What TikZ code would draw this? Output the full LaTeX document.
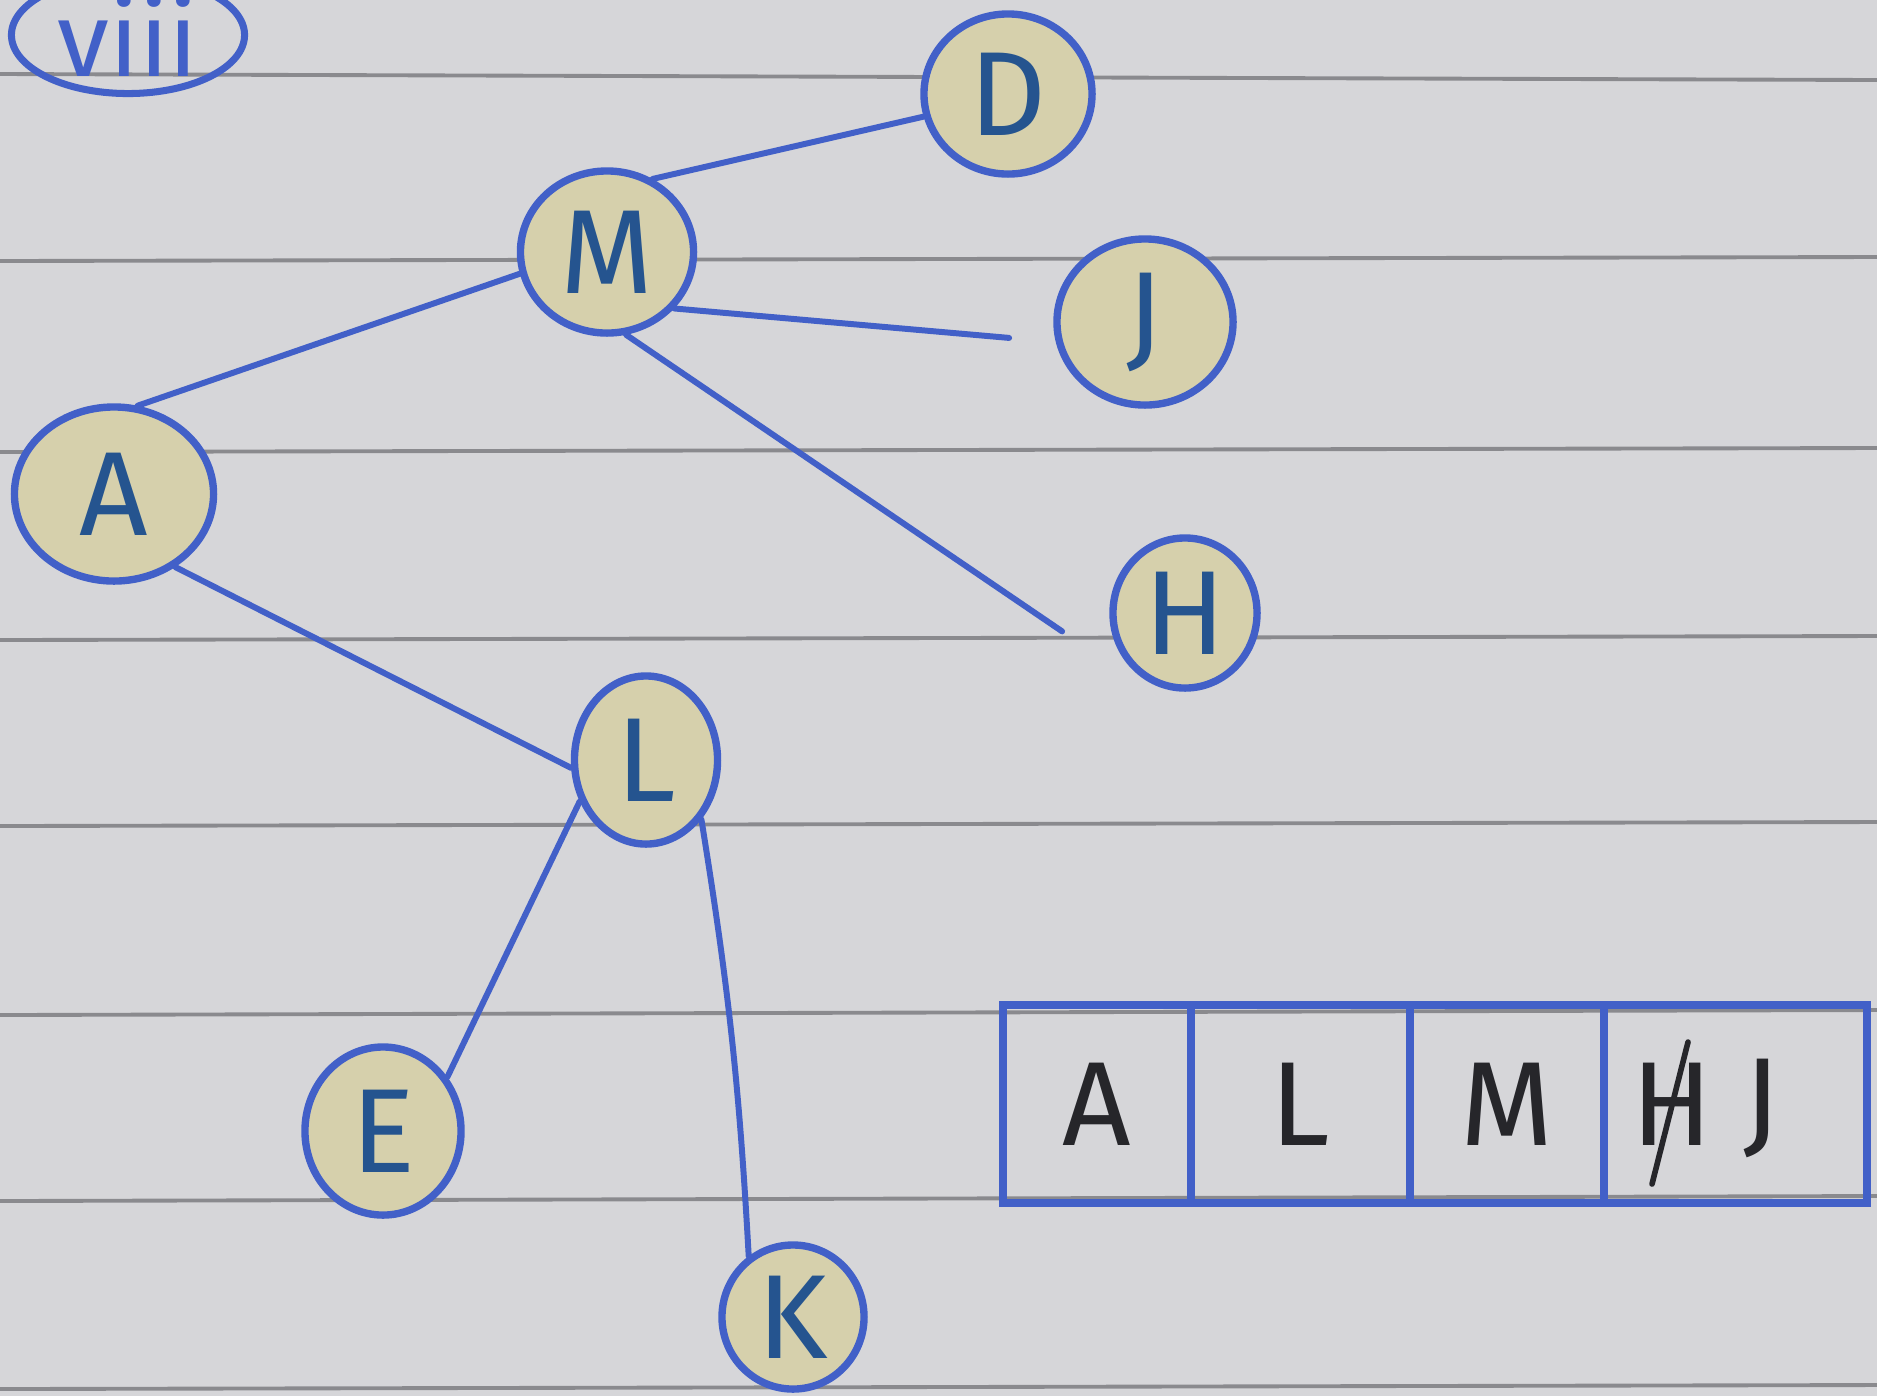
\documentclass[tikz,border=0pt]{standalone}
\usepackage{fontspec}
\setmainfont{Fira Sans}
\usetikzlibrary{shapes.geometric}
\definecolor{paper}{RGB}{214,214,217}
\definecolor{rule}{RGB}{138,138,142}
\definecolor{ink}{RGB}{66,96,200}
\definecolor{marker}{RGB}{214,208,172}
\definecolor{pencil}{RGB}{38,38,42}
\tikzset{
  treenode/.style={ellipse, draw=ink, line width=2.1pt, fill=marker,
    text=ink!70!teal!80!black, inner sep=0pt, font=\fontsize{34}{38}\selectfont},
  edge/.style={draw=ink, line width=1.7pt, line cap=round},
  cell/.style={rectangle, draw=ink, line width=2.2pt, inner sep=0pt,
    minimum height=1.98cm, text=pencil, font=\fontsize{34}{38}\selectfont},
  ruling/.style={draw=rule, line width=1.1pt}
}
\begin{document}
\begin{tikzpicture}[x=0.01cm,y=-0.01cm]
  \useasboundingbox (0,0) rectangle (1877,1396);
  \fill[paper] (0,0) rectangle (1877,1396);
  % ruled lines of the notebook page
  \foreach \yy/\yr in {74/80, 261/257, 452/448, 640/636, 826/822, 1015/1010, 1201/1196, 1389/1385}
    \draw[ruling] (0,\yy) -- (1877,\yr);

  % part label
  \node[ellipse, draw=ink, line width=2pt, minimum width=2.33cm, minimum height=1.17cm,
        text=ink, font=\fontsize{30}{34}\selectfont, inner sep=0pt] (lbl) at (128,35) {viii};

  % tree nodes
  \node[treenode, minimum width=1.68cm, minimum height=1.60cm] (D) at (1008,94) {D};
  \node[treenode, minimum width=1.73cm, minimum height=1.62cm] (M) at (607,252) {M};
  \node[treenode, minimum width=1.76cm, minimum height=1.66cm] (J) at (1145,322) {J};
  \node[treenode, minimum width=1.99cm, minimum height=1.74cm] (A) at (114,494) {A};
  \node[treenode, minimum width=1.44cm, minimum height=1.50cm] (H) at (1185,613) {H};
  \node[treenode, minimum width=1.43cm, minimum height=1.68cm] (L) at (646,760) {L};
  \node[treenode, minimum width=1.56cm, minimum height=1.68cm] (E) at (383,1131) {E};
  \node[treenode, minimum width=1.42cm, minimum height=1.44cm] (K) at (793,1317) {K};

  % tree edges
  \draw[edge] (M.58) -- (D.195);
  \draw[edge] (M.194) -- (A.75);
  \draw[edge] (M.-40) -- ([xshift=-13]J.190);
  \draw[edge] (M.-77) -- ([xshift=-14]H.194);
  \draw[edge] (A.-50) -- (L.186);
  \draw[edge] (L.212) -- (E.40);
  \draw[edge] (L.-47) to[bend left=3] (K.126);

  % array of visited nodes
  \node[cell, minimum width=1.88cm] (c1) at (1097,1104) {A};
  \node[cell, minimum width=2.19cm] (c2) at (1300.5,1104) {L};
  \node[cell, minimum width=1.94cm] (c3) at (1507,1104) {M};
  \node[cell, minimum width=2.63cm] (c4) at (1735.5,1104) {};
  \node[text=pencil, font=\fontsize{34}{38}\selectfont] (hx) at (1672,1104) {H};
  \node[text=pencil, font=\fontsize{34}{38}\selectfont] (jj) at (1762,1108) {J};
  \draw[pencil, line width=1.6pt, line cap=round] ([shift={(-20,80)}]hx.center) -- ([shift={(16,-62)}]hx.center);
\end{tikzpicture}
\end{document}
